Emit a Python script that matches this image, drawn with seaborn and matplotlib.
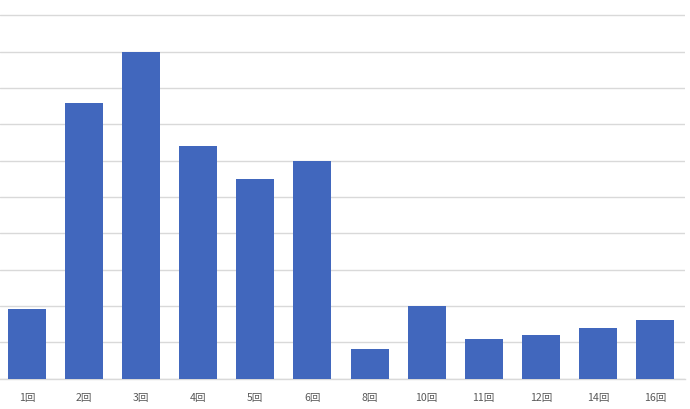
import matplotlib
matplotlib.use("Agg")
import matplotlib.pyplot as plt
import seaborn as sns
import pandas as pd

categories = ["1回", "2回", "3回", "4回", "5回", "6回", "8回", "10回", "11回", "12回", "14回", "16回"]
values = [1.9, 7.58, 9.0, 6.4, 5.48, 6.0, 0.8, 2.0, 1.1, 1.2, 1.4, 1.6]

sns.set_theme(style="white")
plt.rcParams['font.family'] = ['Noto Sans CJK JP', 'DejaVu Sans']

W, H = 690, 410
fig = plt.figure(figsize=(W / 100, H / 100), dpi=100)
ax = fig.add_axes([0, (H - 379.5) / H, 685 / W, 379.5 / H])

df = pd.DataFrame({"cat": categories, "val": values})
sns.barplot(data=df, x="cat", y="val", color="#4167BD", saturation=1, width=0.665,
            linewidth=0, edgecolor="none", ax=ax, zorder=3)

step = 628 / 11
xmin = -27 / step
ax.set_xlim(xmin, xmin + 685 / step)
ax.set_ylim(0, 10 * 379.5 / 363.3)
ax.set_yticks(range(0, 11))
ax.yaxis.grid(True, color="#d9d9d9", linewidth=1, zorder=0)
ax.set_yticklabels([])
ax.tick_params(axis="y", length=0)
ax.tick_params(axis="x", length=0, labelsize=7.6, labelcolor="#595959", pad=10)
for s in ["top", "right", "left"]:
    ax.spines[s].set_visible(False)
ax.spines["bottom"].set_color("#d9d9d9")
ax.spines["bottom"].set_linewidth(1)
ax.set_xlabel("")
ax.set_ylabel("")
fig.savefig("out.png", dpi=100)
